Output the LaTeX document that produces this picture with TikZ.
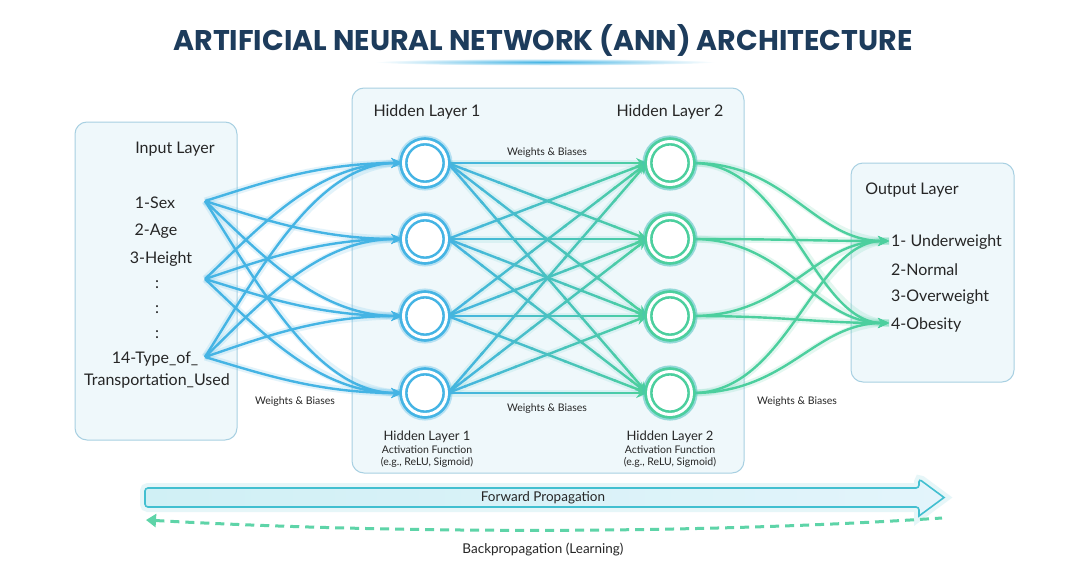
\documentclass[tikz,border=0pt]{standalone}
\usepackage{fontspec}
\setmainfont{Lato}
\newfontfamily\titlefont{Poppins}
\usetikzlibrary{arrows.meta,calc}

\definecolor{navy}{HTML}{1D3C5C}
\definecolor{inkc}{HTML}{262626}
\definecolor{blueL}{HTML}{45B4E4}
\definecolor{greenL}{HTML}{4CCF9E}
\definecolor{boxfill}{HTML}{EFF8FB}
\definecolor{boxline}{HTML}{A8D0E2}
\definecolor{fwdline}{HTML}{42BFD0}
\definecolor{fwdfillL}{HTML}{D0F0F5}
\definecolor{fwdfillR}{HTML}{E3F4FB}

\tikzset{
  layerbox/.style={draw=boxline, fill=boxfill, line width=1pt, rounded corners=12pt},
  lbl/.style={text=inkc, font=\fontsize{16}{18}\selectfont, inner sep=0pt},
  small/.style={text=inkc, font=\fontsize{10.5}{12}\selectfont, inner sep=0pt},
  neuronB/.style={circle, minimum size=43pt, inner sep=0pt, draw=blueL, line width=2.6pt,
    double=white, double distance=3pt, fill=white,
    preaction={draw=blueL, line width=12pt, opacity=0.18}},
  neuronG/.style={neuronB, draw=greenL, preaction={draw=greenL, line width=12pt, opacity=0.18}},
  tip/.style={-{Stealth[length=11pt,width=10pt]}},
  connB/.style={draw=blueL, line width=2.4pt, tip,
    preaction={draw=blueL, line width=7pt, opacity=0.15, -}},
  connG/.style={draw=greenL, line width=2.4pt, tip,
    preaction={draw=greenL, line width=7pt, opacity=0.15, -}},
}

\begin{document}
\begin{tikzpicture}[x=1pt,y=-1pt]
\useasboundingbox (0,0) rectangle (1071,565);
\fill[white] (0,0) rectangle (1071,565);

% title and its glowing underline
\shade[inner color=blueL, outer color=white] (545,62) ellipse (170 and 3.5);
\node[text=navy, font=\titlefont\bfseries\fontsize{28.5}{32}\selectfont] (title) at (543,40)
  {ARTIFICIAL NEURAL NETWORK (ANN) ARCHITECTURE};

% layer panels
\draw[layerbox] (75,122) rectangle (237,440);
\draw[layerbox] (352,88) rectangle (744,473);
\draw[layerbox] (851,163) rectangle (1014,382);

% input layer text
\node[lbl] (inTitle) at (175,149) {Input Layer};
\node[lbl] (x1) at (155,203) {1-Sex};
\node[lbl] (x2) at (156,231) {2-Age};
\node[lbl] (x3) at (161,259) {3-Height};
\node[lbl] (d1) at (157,285) {:};
\node[lbl] (d2) at (157,310) {:};
\node[lbl] (d3) at (157,335) {:};
\node[lbl] (x14a) at (155,359) {14-Type\_of\_};
\node[lbl] (x14b) at (157,381) {Transportation\_Used};

\coordinate (in1) at (205,201);
\coordinate (in2) at (205,279);
\coordinate (in3) at (205,357);

% hidden neurons
\foreach \j/\y in {1/163,2/239,3/316,4/393}{
  \node[neuronB] (h1-\j) at (425,\y) {};
  \node[neuronG] (h2-\j) at (670,\y) {};
}

% output targets
\coordinate (o1) at (889,241);
\coordinate (o4) at (889,323);

% input -> hidden layer 1
\foreach \i/\sy in {1/201,2/279,3/357}{
  \foreach \j/\ty in {1/163,2/239,3/316,4/393}{
    \pgfmathsetmacro\dy{0.45*(\ty-\sy)}
    \draw[connB] (in\i) .. controls +(55,\dy) and +(-85,0) .. (h1-\j.west);
  }
}

% hidden layer 1 -> hidden layer 2, blue fading into green
\foreach \i in {1,...,4}{
  \foreach \j in {1,...,4}{
    \path (h1-\i.east) coordinate (s) (h2-\j.west) coordinate (t);
    \draw[draw=blueL!50!greenL, line width=7pt, opacity=0.12] (s) -- (t);
    \foreach \k in {0,...,10}{
      \pgfmathsetmacro\a{\k/12}
      \pgfmathsetmacro\b{(\k+1)/12+0.01}
      \pgfmathsetmacro\p{100-100*(\k+0.5)/12}
      \draw[draw=blueL!\p!greenL, line width=2.4pt]
        ($(s)!\a!(t)$) -- ($(s)!\b!(t)$);
    }
    \draw[draw=greenL, line width=2.4pt, tip] ($(s)!11/12!(t)$) -- (t);
  }
}

% hidden layer 2 -> output
\foreach \j in {1,...,4}{
  \draw[connG] (h2-\j.east) .. controls +(95,0) and +(-75,0) .. (o1);
  \draw[connG] (h2-\j.east) .. controls +(95,0) and +(-75,0) .. (o4);
}

% redraw neurons above the connectors
\foreach \j/\y in {1/163,2/239,3/316,4/393}{
  \node[neuronB] at (h1-\j) {};
  \node[neuronG] at (h2-\j) {};
}

% hidden layer text
\node[lbl] (hl1) at (427,112) {Hidden Layer 1};
\node[lbl] (hl2) at (670,112) {Hidden Layer 2};
\node[small] (wb1) at (547,153) {Weights \& Biases};
\node[small] (wb2) at (547,409) {Weights \& Biases};
\node[small] (wb0) at (295,402) {Weights \& Biases};
\node[small] (wb3) at (797,402) {Weights \& Biases};
\node[lbl, font=\fontsize{13}{15}\selectfont] (a1) at (427,437) {Hidden Layer 1};
\node[small] (a1b) at (427,450) {Activation Function};
\node[small] (a1c) at (427,462) {(e.g., ReLU, Sigmoid)};
\node[lbl, font=\fontsize{13}{15}\selectfont] (a2) at (670,437) {Hidden Layer 2};
\node[small] (a2b) at (670,450) {Activation Function};
\node[small] (a2c) at (670,462) {(e.g., ReLU, Sigmoid)};

% output layer text
\node[lbl] (outTitle) at (912,190) {Output Layer};
\node[lbl, anchor=west] (y1) at (891,242) {1- Underweight};
\node[lbl, anchor=west] (y2) at (891,270) {2-Normal};
\node[lbl, anchor=west] (y3) at (891,297) {3-Overweight};
\node[lbl, anchor=west] (y4) at (891,325) {4-Obesity};

% forward propagation arrow
\draw[draw=fwdline, line width=1.6pt, left color=fwdfillL, right color=fwdfillR,
      rounded corners=3pt,
      preaction={draw=fwdline, line width=10pt, opacity=0.13}]
  (145,488) -- (919,488) -- (919,479) [sharp corners] -- (944,497.5) -- (919,516)
  [rounded corners=3pt] -- (919,507) -- (145,507) -- cycle;
\node[lbl, font=\fontsize{13.5}{15}\selectfont] (fwd) at (543,497.5) {Forward Propagation};

% backpropagation dashed arrow
\coordinate (bpS) at (942,518);
\coordinate (bpE) at (146,520);
\draw[draw=greenL!90!white, line width=3pt, dash pattern=on 9pt off 6pt,
      {Triangle[length=10pt,width=13pt]}-]
  (bpE) .. controls (400,534) and (700,534) .. (bpS);
\node[lbl, font=\fontsize{13.5}{15}\selectfont] (bp) at (543,549) {Backpropagation (Learning)};
\end{tikzpicture}
\end{document}
